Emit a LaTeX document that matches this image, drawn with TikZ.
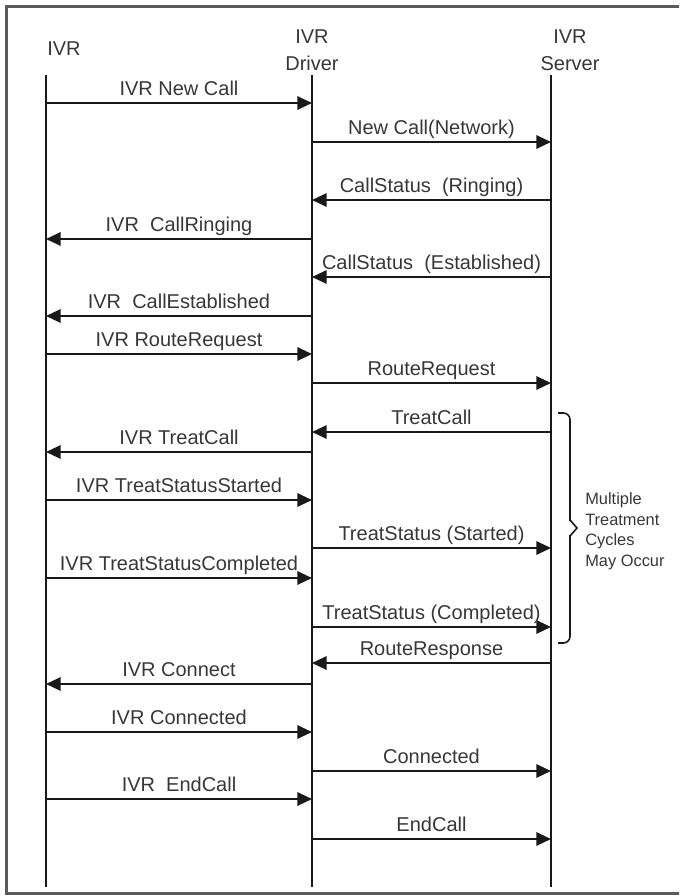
\documentclass[tikz,border=0pt]{standalone}
\usepackage{fontspec}
\setmainfont{Liberation Sans}
\usetikzlibrary{arrows.meta}
\definecolor{framegray}{RGB}{90,90,90}
\definecolor{txtgray}{RGB}{55,55,55}
\definecolor{linecol}{RGB}{25,25,25}
\tikzset{
  frame/.style={draw=framegray, line width=2.2pt},
  lifeline/.style={draw=linecol, line width=1.5pt},
  msg/.style={draw=linecol, line width=1.6pt, -{Triangle[length=11pt,width=10pt]}, shorten >=0pt},
  lbl/.style={text=txtgray, font=\fontsize{15}{18}\selectfont, inner sep=0pt, anchor=base, yshift=5.8pt},
  head/.style={text=txtgray, font=\fontsize{15}{18}\selectfont, inner sep=0pt, anchor=base},
  note/.style={text=txtgray, font=\fontsize{12.3}{15}\selectfont, inner sep=0pt, anchor=base west},
  bracecol/.style={draw=linecol, line width=1.2pt}
}
\begin{document}
\begin{tikzpicture}[x=0.75pt,y=-0.75pt]
\useasboundingbox (0,0) rectangle (679,896);
\clip (0,0) rectangle (679,896);
\draw[frame] (6.5,6.5) rectangle (700,893.5);

% headers
\node[head, anchor=base west] (hivr) at (47,55) {IVR};
\node[head] (hdrv1) at (312,43) {IVR};
\node[head] (hdrv2) at (312,70) {Driver};
\node[head] (hsrv1) at (570,43) {IVR};
\node[head] (hsrv2) at (570,70) {Server};

% lifelines
\coordinate (I) at (46,75);
\coordinate (D) at (312,75);
\coordinate (S) at (551,75);
\coordinate (Ib) at (46,887);
\coordinate (Db) at (312,887);
\coordinate (Sb) at (551,887);
\draw[lifeline] (I) -- (Ib);
\draw[lifeline] (D) -- (Db);
\draw[lifeline] (S) -- (Sb);

% messages
\draw[msg] (I |- 0,103) -- (D |- 0,103) node[lbl,midway] {IVR New Call};
\draw[msg] (D |- 0,142) -- (S |- 0,142) node[lbl,midway] {New Call(Network)};
\draw[msg] (S |- 0,200) -- (D |- 0,200) node[lbl,midway] {CallStatus\ \ (Ringing)};
\draw[msg] (D |- 0,239) -- (I |- 0,239) node[lbl,midway] {IVR\ \ CallRinging};
\draw[msg] (S |- 0,277) -- (D |- 0,277) node[lbl,midway] {CallStatus\ \ (Established)};
\draw[msg] (D |- 0,316) -- (I |- 0,316) node[lbl,midway] {IVR\ \ CallEstablished};
\draw[msg] (I |- 0,354) -- (D |- 0,354) node[lbl,midway] {IVR RouteRequest};
\draw[msg] (D |- 0,383) -- (S |- 0,383) node[lbl,midway] {RouteRequest};
\draw[msg] (S |- 0,432) -- (D |- 0,432) node[lbl,midway] {TreatCall};
\draw[msg] (D |- 0,452) -- (I |- 0,452) node[lbl,midway] {IVR\ TreatCall};
\draw[msg] (I |- 0,500) -- (D |- 0,500) node[lbl,midway] {IVR\ TreatStatusStarted};
\draw[msg] (D |- 0,548) -- (S |- 0,548) node[lbl,midway] {TreatStatus (Started)};
\draw[msg] (I |- 0,578) -- (D |- 0,578) node[lbl,midway] {IVR\ TreatStatusCompleted};
\draw[msg] (D |- 0,627) -- (S |- 0,627) node[lbl,midway] {TreatStatus (Completed)};
\draw[msg] (S |- 0,663) -- (D |- 0,663) node[lbl,midway] {RouteResponse};
\draw[msg] (D |- 0,684) -- (I |- 0,684) node[lbl,midway] {IVR Connect};
\draw[msg] (I |- 0,732) -- (D |- 0,732) node[lbl,midway] {IVR Connected};
\draw[msg] (D |- 0,771) -- (S |- 0,771) node[lbl,midway] {Connected};
\draw[msg] (I |- 0,799) -- (D |- 0,799) node[lbl,midway] {IVR\ \ EndCall};
\draw[msg] (D |- 0,839) -- (S |- 0,839) node[lbl,midway] {EndCall};

% brace
\coordinate (bt) at (558,413);
\coordinate (bb) at (558,643);
\coordinate (btip) at (577,528);
\draw[bracecol, rounded corners=5pt] (bt) -- (570,413) -- (570,521);
\draw[bracecol] (570,520) -- (btip) -- (570,536);
\draw[bracecol, rounded corners=5pt] (570,535) -- (570,643) -- (bb);

\node[note] (n1) at (585,504) {Multiple};
\node[note] (n2) at (585,525) {Treatment};
\node[note] (n3) at (585,545) {Cycles};
\node[note] (n4) at (585,566) {May Occur};
\end{tikzpicture}
\end{document}
